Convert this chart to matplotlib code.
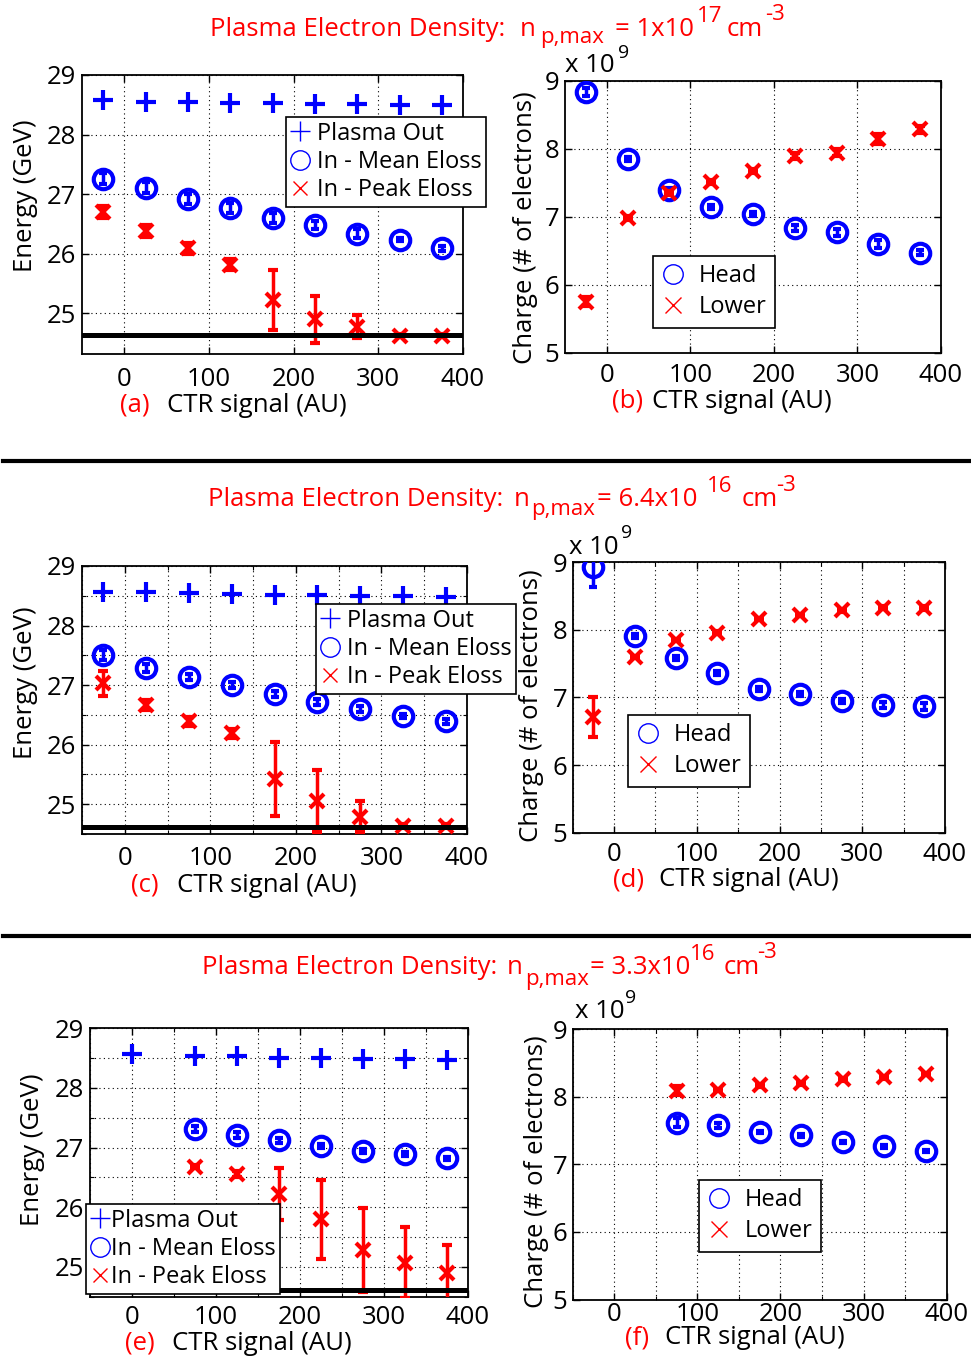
import matplotlib
matplotlib.use('Agg')
import matplotlib.pyplot as plt
from matplotlib.lines import Line2D
from matplotlib.ticker import MultipleLocator

plt.rcParams['font.family'] = ['Open Sans', 'DejaVu Sans']

# ---------------- data ----------------
ctr_bins = [-25, 25, 75, 125, 175, 225, 275, 325, 375]

# n_p,max = 1e17 cm^-3
a_out = [28.58, 28.55, 28.54, 28.53, 28.53, 28.52, 28.51, 28.50, 28.49]
a_mean = [27.26, 27.11, 26.92, 26.77, 26.60, 26.48, 26.34, 26.24, 26.09]
a_mean_err = [0.09, 0.09, 0.08, 0.08, 0.08, 0.07, 0.07, 0.02, 0.04]
a_peak = [26.70, 26.39, 26.09, 25.82, 25.23, 24.90, 24.78, 24.63, 24.63]
a_peak_err = [0.10, 0.10, 0.09, 0.09, 0.50, 0.39, 0.20, 0.03, 0.03]
a_floor = 24.64

b_head = [8.83, 7.85, 7.39, 7.14, 7.04, 6.83, 6.77, 6.60, 6.47]
b_head_err = [0.06, 0.03, 0.03, 0.03, 0.03, 0.04, 0.05, 0.06, 0.04]
b_lower = [5.75, 6.98, 7.34, 7.51, 7.67, 7.89, 7.94, 8.14, 8.28]
b_lower_err = [0.07, 0.03, 0.03, 0.03, 0.03, 0.04, 0.05, 0.07, 0.05]

# n_p,max = 6.4e16 cm^-3
c_out = [28.57, 28.56, 28.54, 28.53, 28.51, 28.51, 28.50, 28.49, 28.48]
c_mean = [27.51, 27.29, 27.13, 27.00, 26.85, 26.72, 26.60, 26.48, 26.39]
c_mean_err = [0.08, 0.07, 0.05, 0.05, 0.05, 0.05, 0.05, 0.04, 0.04]
c_peak = [27.03, 26.67, 26.39, 26.19, 25.43, 25.06, 24.79, 24.63, 24.63]
c_peak_err = [0.21, 0.08, 0.08, 0.07, 0.62, 0.52, 0.26, 0.03, 0.03]
c_floor = 24.62

d_head = [8.93, 7.91, 7.58, 7.36, 7.12, 7.05, 6.95, 6.89, 6.87]
d_head_err = [0.30, 0.03, 0.03, 0.03, 0.03, 0.03, 0.03, 0.04, 0.05]
d_lower = [6.71, 7.60, 7.85, 7.96, 8.16, 8.22, 8.29, 8.33, 8.32]
d_lower_err = [0.30, 0.02, 0.02, 0.02, 0.02, 0.02, 0.02, 0.02, 0.03]

# n_p,max = 3.3e16 cm^-3
e_out_ctr = [0, 75, 125, 175, 225, 275, 325, 375]
e_out = [28.57, 28.54, 28.53, 28.51, 28.50, 28.49, 28.48, 28.47]
e_in_ctr = [75, 125, 175, 225, 275, 325, 375]
e_mean = [27.31, 27.21, 27.12, 27.03, 26.94, 26.89, 26.82]
e_mean_err = [0.05, 0.05, 0.04, 0.03, 0.03, 0.03, 0.03]
e_peak = [26.68, 26.55, 26.22, 25.80, 25.28, 25.07, 24.89]
e_peak_err = [0.03, 0.05, 0.43, 0.66, 0.70, 0.60, 0.47]
e_floor = 24.62

f_ctr = [75, 125, 175, 225, 275, 325, 375]
f_head = [7.62, 7.58, 7.48, 7.43, 7.33, 7.27, 7.20]
f_head_err = [0.07, 0.04, 0.02, 0.02, 0.02, 0.02, 0.02]
f_lower = [8.09, 8.10, 8.17, 8.20, 8.26, 8.29, 8.34]
f_lower_err = [0.07, 0.02, 0.02, 0.02, 0.02, 0.02, 0.02]

x_ticks = [0, 100, 200, 300, 400]
energy_ticks = [25, 26, 27, 28, 29]
charge_ticks = [5, 6, 7, 8, 9]

densities = ['1x10', '6.4x10', '3.3x10']
density_exps = ['17', '16', '16']
energy_labels = ['Plasma Out', 'In - Mean Eloss', 'In - Peak Eloss']
charge_labels = ['Head', 'Lower']

# ---------------- figure ----------------
W, H = 971, 1363
BLUE = '#0000ff'
RED = '#ff0000'
FS = 18.5      # ticks, axis labels, titles
FS_LEG = 17    # legends
FS_SUP = 15    # sub/superscripts

fig = plt.figure(figsize=(W / 100, H / 100), dpi=100)


def add_axes_px(left, top, right, bottom):
    return fig.add_axes([left / W, 1 - bottom / H, (right - left) / W, (bottom - top) / H])


def ftext(x, y, s, **kw):
    kw.setdefault('va', 'center')
    kw.setdefault('ha', 'left')
    return fig.text(x / W, 1 - y / H, s, **kw)


def style_axes(ax, yticks, ylim, xpad, minor_x=False, minor_y=False):
    ax.set_xlim(-50, 400)
    ax.set_ylim(*ylim)
    ax.set_xticks(x_ticks)
    ax.set_yticks(yticks)
    dots = (0, (1, 3))
    ax.grid(True, which='major', ls=dots, color='k', lw=0.8)
    if minor_x:
        ax.xaxis.set_minor_locator(MultipleLocator(50))
        ax.grid(True, which='minor', axis='x', ls=dots, color='k', lw=0.8)
    if minor_y:
        ax.yaxis.set_minor_locator(MultipleLocator(0.5))
        ax.grid(True, which='minor', axis='y', ls=dots, color='k', lw=0.8)
    ax.tick_params(which='both', direction='in', top=True, right=True, labelsize=FS)
    ax.tick_params(which='major', length=5, width=1)
    ax.tick_params(which='minor', length=3, width=0.8)
    ax.tick_params(axis='x', pad=xpad)
    ax.tick_params(axis='y', pad=4)
    for sp in ax.spines.values():
        sp.set_linewidth(1.3)
        sp.set_color('k')
    ax.set_axisbelow(True)


def energy_panel(ax, x_out, out, x_in, mean, mean_err, peak, peak_err, floor, ylim,
                 minor, xpad):
    ax.plot(x_out, out, '+', color=BLUE, ms=15, mew=3, zorder=3)
    ax.errorbar(x_in, mean, yerr=mean_err, fmt='o', mfc='none', mec=BLUE, color=BLUE,
                ms=14, mew=3, elinewidth=2.5, capsize=3, capthick=2.5, zorder=3)
    ax.errorbar(x_in, peak, yerr=peak_err, fmt='x', color=RED, ms=10.5, mew=3,
                elinewidth=2.5, capsize=3.5, capthick=2.5, zorder=4)
    ax.axhline(floor, color='k', lw=3.6, zorder=5)
    style_axes(ax, energy_ticks, ylim, xpad, minor_x=minor, minor_y=minor)


def charge_panel(ax, x, head, head_err, lower, lower_err, minor_x, xpad):
    ax.errorbar(x, head, yerr=head_err, fmt='o', mfc='none', mec=BLUE, color=BLUE,
                ms=14, mew=3, elinewidth=2.5, capsize=3, capthick=2.5, zorder=3)
    ax.errorbar(x, lower, yerr=lower_err, fmt='x', color=RED, ms=10.5, mew=3,
                elinewidth=2.5, capsize=3.5, capthick=2.5, zorder=4)
    style_axes(ax, charge_ticks, (5, 9), xpad, minor_x=minor_x)


def place_legend(ax, handles, labels, anchor_px, borderpad, handletextpad, labelspacing,
                 handlelength):
    leg = ax.legend(handles, labels, loc='upper left',
                    bbox_to_anchor=(anchor_px[0] / W, 1 - anchor_px[1] / H),
                    bbox_transform=fig.transFigure, fontsize=FS_LEG, frameon=True,
                    fancybox=False, edgecolor='k', framealpha=1, borderpad=borderpad,
                    handlelength=handlelength, handletextpad=handletextpad,
                    labelspacing=labelspacing, borderaxespad=0)
    leg.get_frame().set_linewidth(1.2)
    leg.set_zorder(10)


def energy_legend(ax, anchor_px, handletextpad=0.3):
    handles = [
        Line2D([], [], ls='none', marker='+', color=BLUE, ms=15, mew=1),
        Line2D([], [], ls='none', marker='o', mfc='none', mec=BLUE, ms=14, mew=1),
        Line2D([], [], ls='none', marker='x', color=RED, ms=10.5, mew=1),
    ]
    place_legend(ax, handles, energy_labels, anchor_px, 0.2, handletextpad, 0.18, 0.8)


def charge_legend(ax, anchor_px):
    handles = [
        Line2D([], [], ls='none', marker='o', mfc='none', mec=BLUE, ms=14, mew=1),
        Line2D([], [], ls='none', marker='x', color=RED, ms=12, mew=1),
    ]
    place_legend(ax, handles, charge_labels, anchor_px, 0.35, 0.6, 0.3, 1.0)


def xlabel(x_tag, x_text, y, tag):
    ftext(x_tag, y, tag, color=RED, fontsize=FS)
    ftext(x_text, y, 'CTR signal (AU)', color='k', fontsize=FS)


def ylabel(x, y, s):
    ftext(x, y, s, rotation=90, fontsize=FS, ha='center')


def exponent(x, y, x_sup, y_sup):
    ftext(x, y, 'x 10', fontsize=FS)
    ftext(x_sup, y_sup, '9', fontsize=FS_SUP - 1)


def title(row, y, xs, dy_sub, dy_sup):
    # xs: left edges of the pieces of the red density heading
    col = dict(color=RED)
    ftext(xs[0], y, 'Plasma Electron Density:', fontsize=FS, **col)
    ftext(xs[1], y, 'n', fontsize=FS, **col)
    ftext(xs[2], y + dy_sub, 'p,max', fontsize=FS_SUP + 1, **col)
    ftext(xs[3], y, '= ' + densities[row], fontsize=FS, **col)
    ftext(xs[4], y + dy_sup, density_exps[row], fontsize=FS_SUP + 1, **col)
    ftext(xs[5], y, 'cm', fontsize=FS, **col)
    ftext(xs[6], y + dy_sup - 2, '-3', fontsize=FS_SUP + 1, **col)


# --- row 1 ---
ax_a = add_axes_px(82, 75, 463, 354)
energy_panel(ax_a, ctr_bins, a_out, ctr_bins, a_mean, a_mean_err, a_peak, a_peak_err,
             a_floor, (24.32, 29), minor=False, xpad=9)
energy_legend(ax_a, (286, 117))
ax_b = add_axes_px(565, 80.5, 941, 352.5)
charge_panel(ax_b, ctr_bins, b_head, b_head_err, b_lower, b_lower_err, minor_x=False,
             xpad=7.5)
charge_legend(ax_b, (653, 256))

# --- row 2 ---
ax_c = add_axes_px(82, 566, 467, 834)
energy_panel(ax_c, ctr_bins, c_out, ctr_bins, c_mean, c_mean_err, c_peak, c_peak_err,
             c_floor, (24.5, 29), minor=True, xpad=8.3)
energy_legend(ax_c, (316, 604))
ax_d = add_axes_px(572.7, 562.3, 945, 832.7)
charge_panel(ax_d, ctr_bins, d_head, d_head_err, d_lower, d_lower_err, minor_x=True,
             xpad=7)
charge_legend(ax_d, (628, 715))

# --- row 3 ---
ax_e = add_axes_px(90, 1028.3, 468, 1296.7)
energy_panel(ax_e, e_out_ctr, e_out, e_in_ctr, e_mean, e_mean_err, e_peak, e_peak_err,
             e_floor, (24.5, 29), minor=True, xpad=6)
energy_legend(ax_e, (86, 1204), handletextpad=0.05)
ax_f = add_axes_px(572.7, 1029.3, 946.7, 1299.5)
charge_panel(ax_f, f_ctr, f_head, f_head_err, f_lower, f_lower_err, minor_x=True,
             xpad=2)
charge_legend(ax_f, (699, 1180))

# density headings
title(0, 30, [210, 520, 540, 615, 697, 727, 765], 8, -13)
title(1, 500, [208, 514, 531, 597, 707, 742, 776], 10, -13)
title(2, 968, [202, 507, 525, 590, 690, 724, 757], 11, -13)

# x labels
xlabel(120, 167, 405, '(a)')
xlabel(612, 652, 401, '(b)')
xlabel(131, 177, 885, '(c)')
xlabel(613, 659, 880, '(d)')
xlabel(125, 172, 1343, '(e)')
xlabel(625, 665, 1338, '(f)')

# y labels
ylabel(25, 196, 'Energy (GeV)')
ylabel(525, 228, 'Charge (# of electrons)')
ylabel(25, 683, 'Energy (GeV)')
ylabel(532, 706, 'Charge (# of electrons)')
ylabel(33, 1150, 'Energy (GeV)')
ylabel(536, 1172, 'Charge (# of electrons)')

# exponent labels
exponent(565, 66, 618, 53)
exponent(569, 547, 621, 533)
exponent(575, 1011, 625, 998)

# row separators
for ysep in (460.7, 936):
    fig.add_artist(Line2D([3 / W, 1.0], [1 - ysep / H, 1 - ysep / H],
                          transform=fig.transFigure, color='k', lw=3))

fig.savefig('out.png', dpi=100)
